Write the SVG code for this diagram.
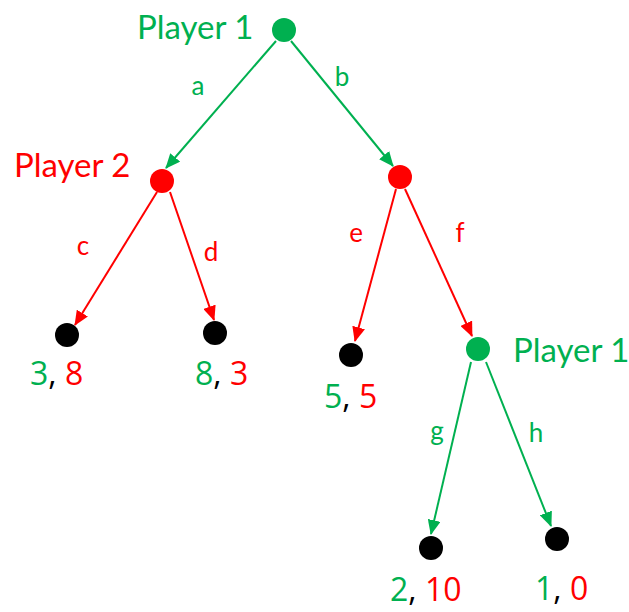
<svg xmlns="http://www.w3.org/2000/svg" width="629" height="612" viewBox="0 0 629 612">
  <style>
    .g { fill: #00B050; }
    .r { fill: #FF0000; }
    .k { fill: #000000; }
    .player { font-family: "Lato", "Open Sans", sans-serif; font-size: 33px; }
    .move { font-family: "Lato", "Open Sans", sans-serif; font-size: 26px; text-anchor: middle; }
    .pay { font-family: "Open Sans", "Noto Sans", sans-serif; font-size: 32px; }
    .eg { stroke: #00B050; stroke-width: 2; fill: none; }
    .er { stroke: #FF0000; stroke-width: 2; fill: none; }
  </style>
  <defs>
    <marker id="arrG" viewBox="0 0 15 13" refX="14" refY="6.5" markerWidth="15" markerHeight="13" markerUnits="userSpaceOnUse" orient="auto">
      <path d="M0,0 L15,6.5 L0,13 Z" fill="#00B050"/>
    </marker>
    <marker id="arrR" viewBox="0 0 15 13" refX="14" refY="6.5" markerWidth="15" markerHeight="13" markerUnits="userSpaceOnUse" orient="auto">
      <path d="M0,0 L15,6.5 L0,13 Z" fill="#FF0000"/>
    </marker>
  </defs>

  <g id="edges">
    <line class="eg" x1="276" y1="41" x2="166" y2="168" marker-end="url(#arrG)"/>
    <line class="eg" x1="291" y1="41" x2="393" y2="166" marker-end="url(#arrG)"/>
    <line class="er" x1="157" y1="192" x2="75" y2="325" marker-end="url(#arrR)"/>
    <line class="er" x1="170" y1="192" x2="214" y2="320" marker-end="url(#arrR)"/>
    <line class="er" x1="396" y1="189" x2="355" y2="341" marker-end="url(#arrR)"/>
    <line class="er" x1="405" y1="189" x2="472" y2="336" marker-end="url(#arrR)"/>
    <line class="eg" x1="471" y1="362" x2="431" y2="534" marker-end="url(#arrG)"/>
    <line class="eg" x1="486" y1="362" x2="551" y2="526" marker-end="url(#arrG)"/>
    <text class="move g" x="198" y="95">a</text>
    <text class="move g" x="342" y="86">b</text>
    <text class="move r" x="83" y="255">c</text>
    <text class="move r" x="211" y="261">d</text>
    <text class="move r" x="356" y="242">e</text>
    <text class="move r" x="460" y="242">f</text>
    <text class="move g" x="437" y="440">g</text>
    <text class="move g" x="536" y="442">h</text>
  </g>

  <g id="root">
    <circle class="g" cx="284" cy="30" r="12"/>
    <text class="player g" x="137" y="39">Player 1</text>
  </g>
  <g id="p2-left">
    <circle class="r" cx="162" cy="181" r="12"/>
    <text class="player r" x="14" y="177">Player 2</text>
  </g>
  <g id="p2-right">
    <circle class="r" cx="400" cy="177" r="12"/>
  </g>
  <g id="p1-lower">
    <circle class="g" cx="478" cy="349" r="12"/>
    <text class="player g" x="513" y="362">Player 1</text>
  </g>
  <g id="leaf-c">
    <circle class="k" cx="67" cy="335" r="12"/>
    <text class="pay" x="30" y="385"><tspan class="g">3</tspan><tspan class="k">,</tspan><tspan class="r"> 8</tspan></text>
  </g>
  <g id="leaf-d">
    <circle class="k" cx="215" cy="333" r="12"/>
    <text class="pay" x="195" y="385"><tspan class="g">8</tspan><tspan class="k">,</tspan><tspan class="r"> 3</tspan></text>
  </g>
  <g id="leaf-e">
    <circle class="k" cx="351" cy="355" r="12"/>
    <text class="pay" x="324" y="408"><tspan class="g">5</tspan><tspan class="k">,</tspan><tspan class="r"> 5</tspan></text>
  </g>
  <g id="leaf-g">
    <circle class="k" cx="431" cy="548" r="12"/>
    <text class="pay" x="390" y="601"><tspan class="g">2</tspan><tspan class="k">,</tspan><tspan class="r"> 10</tspan></text>
  </g>
  <g id="leaf-h">
    <circle class="k" cx="557" cy="539" r="12"/>
    <text class="pay" x="535" y="600"><tspan class="g">1</tspan><tspan class="k">,</tspan><tspan class="r"> 0</tspan></text>
  </g>
</svg>
